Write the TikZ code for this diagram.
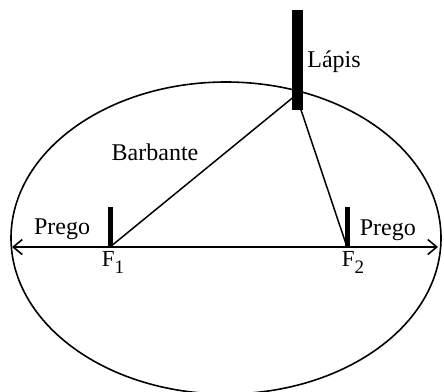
\documentclass[tikz,border=0pt]{standalone}
\usepackage{fontspec}
\setmainfont{Liberation Serif}
\usetikzlibrary{arrows.meta,positioning}
\tikzset{
	rot/.style    = {inner sep=0pt,font=\fontsize{24}{28}\selectfont},
	foco/.style   = {inner sep=0pt,font=\fontsize{23}{26}\selectfont},
	prego/.style  = {rectangle,fill=black,inner sep=0pt,
		minimum width=5pt,minimum height=40pt,anchor=south},
	lapis/.style  = {rectangle,fill=black,inner sep=0pt,
		minimum width=11pt,minimum height=100pt},
	fio/.style    = {line width=1.5pt},
	eixo/.style   = {{Straight Barb[length=9pt,width=15pt]}-{Straight Barb[length=9pt,width=15pt]},
		line width=1.6pt},
}
\newcommand{\subind}[1]{\raisebox{-7pt}{\fontsize{19}{19}\selectfont #1}}

\begin{document}
\begin{tikzpicture}[x=1pt,y=-1pt]
		\useasboundingbox (0,0) rectangle (444,391);
		
		%% Elipse
		\draw[line width=1.6pt] (226,238) ellipse [x radius=215,y radius=156];
		
		%% Eixo maior
		\coordinate (F1)  at (110,247);
		\coordinate (F2)  at (347,247);
		\coordinate (esq) at (12,247);
		\coordinate (dir) at (438,247);
		\coordinate (ponta) at (296,95);
		\draw[eixo](esq)--(dir);
		
		%% Barbante
		\draw[fio](F1)--(ponta)--(F2);
		
		%% Pregos e lapis
		\node (p1)  [prego] at (F1) {};
		\node (p2)  [prego] at (F2) {};
		\node (lap) [lapis] at (297.5,59.5) {};
		
		%% Rotulos
		\node (lapt) [rot,right=4pt of lap,yshift=-2pt] {Lápis};
		\node (barb) [rot] at (155,152) {Barbante};
		\node (pg1)  [rot,left=17pt of p1,yshift=-2pt] {Prego};
		\node (pg2)  [rot,right=10pt of p2,yshift=-3pt] {Prego};
		\node (f1t)  [foco,below=4pt of F1,xshift=3pt] {F\subind{1}};
		\node (f2t)  [foco,below=4pt of F2,xshift=6pt] {F\subind{2}};
	\end{tikzpicture}
\end{document}
